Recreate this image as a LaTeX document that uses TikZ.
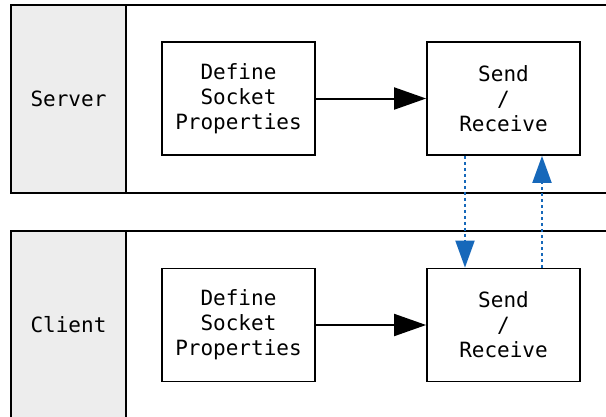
\documentclass[tikz,border=0pt]{standalone}
\usepackage{fontspec}
\setmainfont{DejaVu Sans Mono}
\usetikzlibrary{arrows.meta}
\definecolor{lanegray}{RGB}{237,237,237}
\definecolor{linkblue}{RGB}{22,104,186}
\tikzset{
  lane/.style={draw=black, line width=1.8pt},
  lanelabel/.style={font=\fontsize{21}{25}\selectfont},
  stepbox/.style={draw=black, line width=1.8pt, minimum width=153pt, minimum height=113pt, align=center, font=\fontsize{21}{25}\selectfont, inner sep=0pt},
  flow/.style={line width=2pt, -{Triangle[length=32pt,width=22pt]}},
  link/.style={draw=linkblue, line width=2pt, dash pattern=on 3pt off 3pt, -{Triangle[length=27pt,width=19pt,fill=linkblue]}}
}
\begin{document}
\begin{tikzpicture}[x=1pt,y=-1pt]
\useasboundingbox (0,0) rectangle (606,416);
\clip (0,0) rectangle (606,416);
% lanes
\fill[lanegray] (11,5) rectangle (126,193);
\draw[lane] (11,5) rectangle (640,193);
\draw[lane] (126,5) -- (126,193);
\fill[lanegray] (11,231) rectangle (126,440);
\draw[lane] (11,231) rectangle (640,440);
\draw[lane] (126,231) -- (126,440);
\node[lanelabel] (server) at (68.5,99) {Server};
\node[lanelabel] (client) at (68.5,325) {Client};
% boxes
\node[stepbox] (s1) at (238.5,98.5) {Define\\Socket\\Properties};
\node[stepbox] (s2) at (503.5,98.5) {Send\\/\\Receive};
\node[stepbox] (c1) at (238.5,325) {Define\\Socket\\Properties};
\node[stepbox] (c2) at (503.5,325) {Send\\/\\Receive};
% connectors
\draw[flow] (s1) -- (s2);
\draw[flow] (c1) -- (c2);
\draw[link] ([xshift=-38.5pt]s2.south) -- ([xshift=-38.5pt]c2.north);
\draw[link] ([xshift=38.5pt]c2.north) -- ([xshift=38.5pt]s2.south);
\end{tikzpicture}
\end{document}
